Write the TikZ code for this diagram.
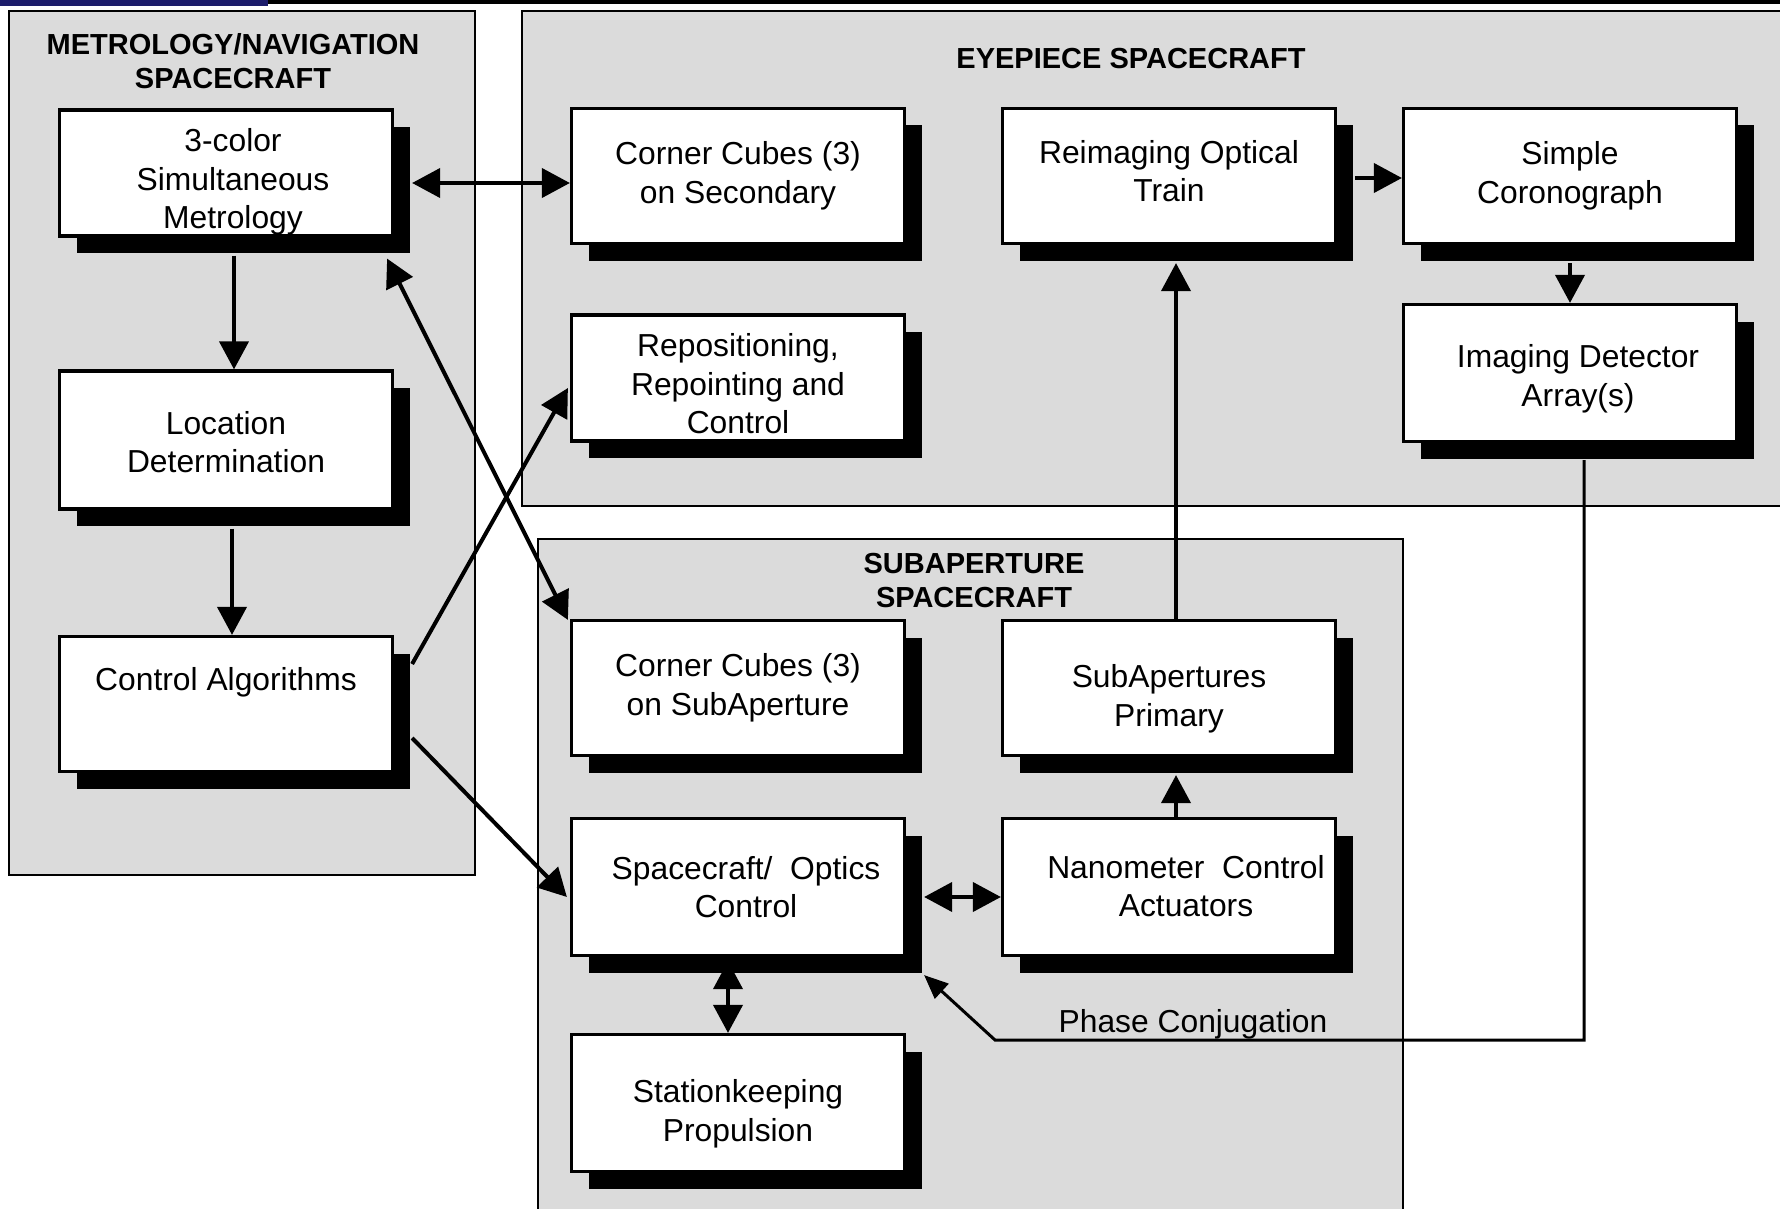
\documentclass[tikz,border=0pt]{standalone}
\usepackage{fontspec}
\setmainfont{Liberation Sans}
\usetikzlibrary{arrows.meta,shadows}
\definecolor{navyband}{HTML}{1C1C6B}

\begin{document}
\begin{tikzpicture}[x=1pt,y=-1pt,
    group/.style={draw,line width=2.8pt,fill=black!14},
    unit/.style={draw,line width=3.2pt,fill=white,minimum width=333pt,minimum height=135pt,
        drop shadow={shadow xshift=17pt,shadow yshift=-17pt,fill=black,opacity=1}},
    unittext/.style={align=center,font=\fontsize{31.8}{38.6}\selectfont},
    title/.style={align=center,font=\fontsize{29}{34}\selectfont\bfseries},
    arr/.style={line width=4pt,-{Triangle[length=28pt,width=29pt]}},
    biarr/.style={line width=4pt,{Triangle[length=28pt,width=29pt]}-{Triangle[length=28pt,width=29pt]}},
    thinarr/.style={line width=3pt,-{Triangle[length=24pt,width=20pt]}}]
    \useasboundingbox (0,0) rectangle (1780,1209);

    % top band
    \fill[navyband] (0,0) rectangle (268,6);
    \fill[black] (268,0) rectangle (1780,4);

    % spacecraft groups
    \draw[group] (9,11) rectangle (475,875);
    \draw[group] (522,11) rectangle (1795,506);
    \draw[group] (538,539) rectangle (1403,1220);

    \node[title] (metrotitle) at (233,61) {METROLOGY/NAVIGATION\\SPACECRAFT};
    \node[title] (eyetitle) at (1131,59) {EYEPIECE SPACECRAFT};
    \node[title] (subtitle) at (974,581) {SUBAPERTURE\\SPACECRAFT};

    % metrology/navigation
    \node[unit,minimum height=126pt] (metro) at (226,173) {};
    \node[unittext] (metrotext) at ([shift={(7,9)}]metro.center) {3-color\\Simultaneous\\Metrology};
    \node[unit,minimum height=138pt] (loc) at (226,440) {};
    \node[unittext] (loctext) at ([shift={(0,2)}]loc.center) {Location\\Determination};
    \node[unit] (ctrl) at (226,704) {};
    \node[unittext] (ctrltext) at ([shift={(0,-22)}]ctrl.center) {Control Algorithms};

    % eyepiece
    \node[unit] (ccsec) at (738,176) {};
    \node[unittext] (ccsectext) at (ccsec.center) {Corner Cubes (3)\\on Secondary};
    \node[unit,minimum height=126pt] (repos) at (738,378) {};
    \node[unittext] (repostext) at ([shift={(0,6)}]repos.center) {Repositioning,\\Repointing and\\Control};
    \node[unit] (reimg) at (1169,176) {};
    \node[unittext] (reimgtext) at ([shift={(0,-5)}]reimg.center) {Reimaging Optical\\Train};
    \node[unit] (coron) at (1570,176) {};
    \node[unittext] (corontext) at (coron.center) {Simple\\Coronograph};
    \node[unit,minimum height=137pt] (imgdet) at (1570,373) {};
    \node[unittext] (imgdettext) at ([shift={(8,6)}]imgdet.center) {Imaging Detector\\Array(s)};

    % subaperture
    \node[unit] (ccsub) at (738,688) {};
    \node[unittext] (ccsubtext) at (ccsub.center) {Corner Cubes (3)\\on SubAperture};
    \node[unit] (subprim) at (1169,688) {};
    \node[unittext] (subprimtext) at ([shift={(0,11)}]subprim.center) {SubApertures\\Primary};
    \node[unit,minimum height=137pt] (scopt) at (738,887) {};
    \node[unittext] (scopttext) at ([shift={(8,0)}]scopt.center) {Spacecraft/\ \ Optics\\Control};
    \node[unit,minimum height=137pt] (nano) at (1169,887) {};
    \node[unittext] (nanotext) at ([shift={(17,-1)}]nano.center) {Nanometer\ \ Control\\Actuators};
    \node[unit,minimum height=137pt] (station) at (738,1103) {};
    \node[unittext] (stationtext) at ([shift={(0,11)}]station.center) {Stationkeeping\\Propulsion};

    % connectors
    \draw[biarr] ([shift={(18,10)}]metro.east) -- ([shift={(0,7)}]ccsec.west);
    \draw[arr] ([shift={(8,18)}]metro.south) -- ([shift={(8,0)}]loc.north);
    \draw[arr] ([shift={(6,18)}]loc.south) -- ([shift={(6,0)}]ctrl.north);
    \draw[biarr] ([shift={(-7,21)}]metro.south east) -- ([shift={(-2,1)}]ccsub.north west);
    \draw[arr] ([shift={(18,-40)}]ctrl.east) -- ([shift={(-2,10)}]repos.west);
    \draw[arr] ([shift={(18,34)}]ctrl.east) -- ([shift={(-3,10)}]scopt.west);
    \draw[arr] ([shift={(18,2)}]reimg.east) -- ([shift={(0,2)}]coron.west);
    \draw[arr] ([shift={(0,18)}]coron.south) -- (imgdet.north);
    \draw[arr] ([shift={(7,0)}]subprim.north) -- ([shift={(7,18)}]reimg.south);
    \draw[arr] ([shift={(7,0)}]nano.north) -- ([shift={(7,18)}]subprim.south);
    \draw[biarr] ([shift={(18,10)}]scopt.east) -- ([shift={(0,10)}]nano.west);
    \draw[biarr] ([shift={(-10,4)}]scopt.south) -- ([shift={(-10,0)}]station.north);

    \coordinate (pcbend) at (995,1040);
    \draw[thinarr] ([shift={(14,17)}]imgdet.south) |- (pcbend) -- ([shift={(18,18)}]scopt.south east);
    \node[unittext] (pclabel) at (1193,1024) {Phase Conjugation};
\end{tikzpicture}
\end{document}
